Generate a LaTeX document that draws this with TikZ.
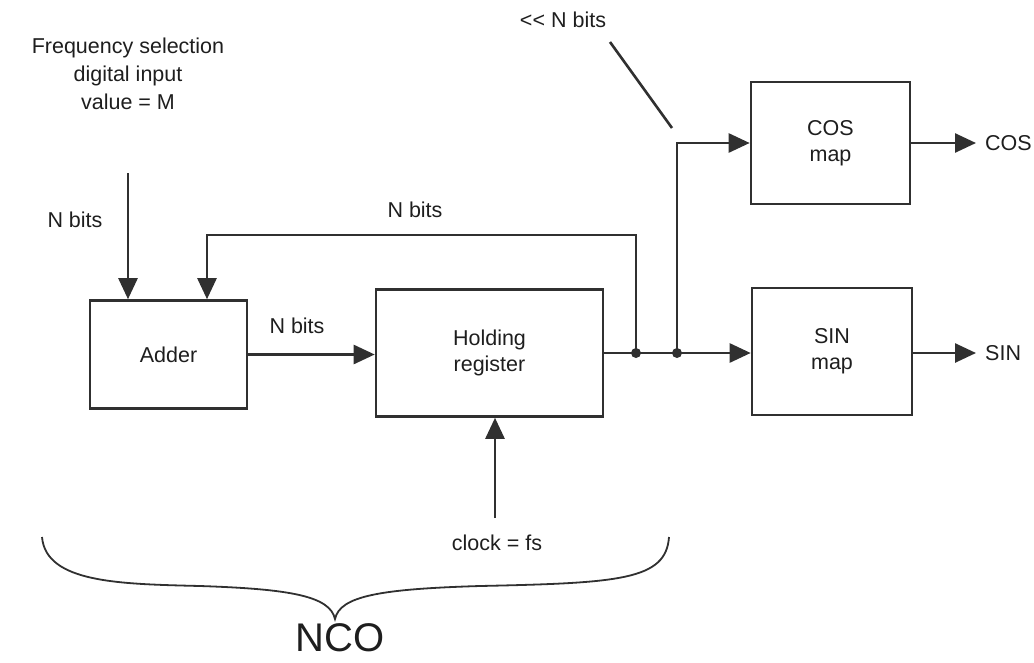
\documentclass[tikz,border=0pt]{standalone}
\usepackage{fontspec}
\setmainfont{Liberation Sans}
\usetikzlibrary{arrows.meta}
\definecolor{ink}{HTML}{303030}
\definecolor{txt}{HTML}{1E1E1E}
\begin{document}
\begin{tikzpicture}[x=1pt,y=-1pt,
  box/.style={draw=ink,line width=2.6pt,rectangle,inner sep=0pt,align=center,text=txt,
              font=\fontsize{21.5}{26}\selectfont},
  lbl/.style={text=txt,inner sep=0pt,align=center,font=\fontsize{21.5}{28}\selectfont},
  wire/.style={draw=ink,line width=2.6pt},
  arr/.style={wire,-{Triangle[length=21pt,width=19pt]}},
  dot/.style={circle,fill=ink,inner sep=0pt,minimum size=10pt}]
\useasboundingbox (0,0) rectangle (1034,662);
% blocks
\node[box,minimum width=157pt,minimum height=108pt] (adder) at (168.5,354.5) {Adder};
\node[box,minimum width=227pt,minimum height=127pt] (reg) at (489.5,353) {Holding\\register};
\node[box,minimum width=159pt,minimum height=122pt] (cos) at (830.5,143) {COS\\map};
\node[box,minimum width=160pt,minimum height=127pt] (sin) at (832,351.5) {SIN\\map};
% labels
\node[lbl] (freq) at (128,74) {Frequency selection\\digital input\\value = M};
\node[lbl] (nb1) at (75,220) {N bits};
\node[lbl] (nb2) at (415,210) {N bits};
\node[lbl] (nb3) at (297,326) {N bits};
\node[lbl] (nb4) at (563,20) {<\kern0pt< N bits};
\node[lbl,anchor=west] (coslbl) at (985,143) {COS};
\node[lbl,anchor=west] (sinlbl) at (985,353) {SIN};
\node[lbl] (clklbl) at (497,543) {clock = fs};
\node[text=txt,inner sep=0pt,text depth=0pt,anchor=south,font=\fontsize{40}{46}\selectfont] (nco) at (340,652) {NCO};
% coordinates
\coordinate (in) at (128,173);
\coordinate (j1) at (636,353);
\coordinate (j2) at (677,353);
\coordinate (fb) at (207,235);
\coordinate (clk) at (495,518);
\coordinate (cosout) at (976,143);
\coordinate (sinout) at (976,353);
\coordinate (sl1) at (610,42);
\coordinate (sl2) at (672,128);
% connectors
\draw[arr] (in) -- (in |- adder.north);
\draw[arr] (j1) |- (fb) -- (fb |- adder.north);
\draw[arr] (adder.east) -- (adder.east -| reg.west);
\draw[arr] (reg.east |- j1) -- (sin.west |- j1);
\draw[arr] (j2) |- (cos.west);
\draw[arr] (cos.east) -- (cosout);
\draw[arr] (sin.east |- sinout) -- (sinout);
\draw[arr] (clk) -- (clk |- reg.south);
\draw[wire] (sl1) -- (sl2);
\node[dot] at (j1) {};
\node[dot] at (j2) {};
% brace
\draw[ink,line width=1.8pt]
  (42,537) .. controls (46,583) and (120,584) .. (200,586)
  .. controls (290,589) and (330,596) .. (335,619)
  .. controls (340,596) and (380,589) .. (480,586)
  .. controls (620,583) and (666,580) .. (669,537);
\end{tikzpicture}
\end{document}
